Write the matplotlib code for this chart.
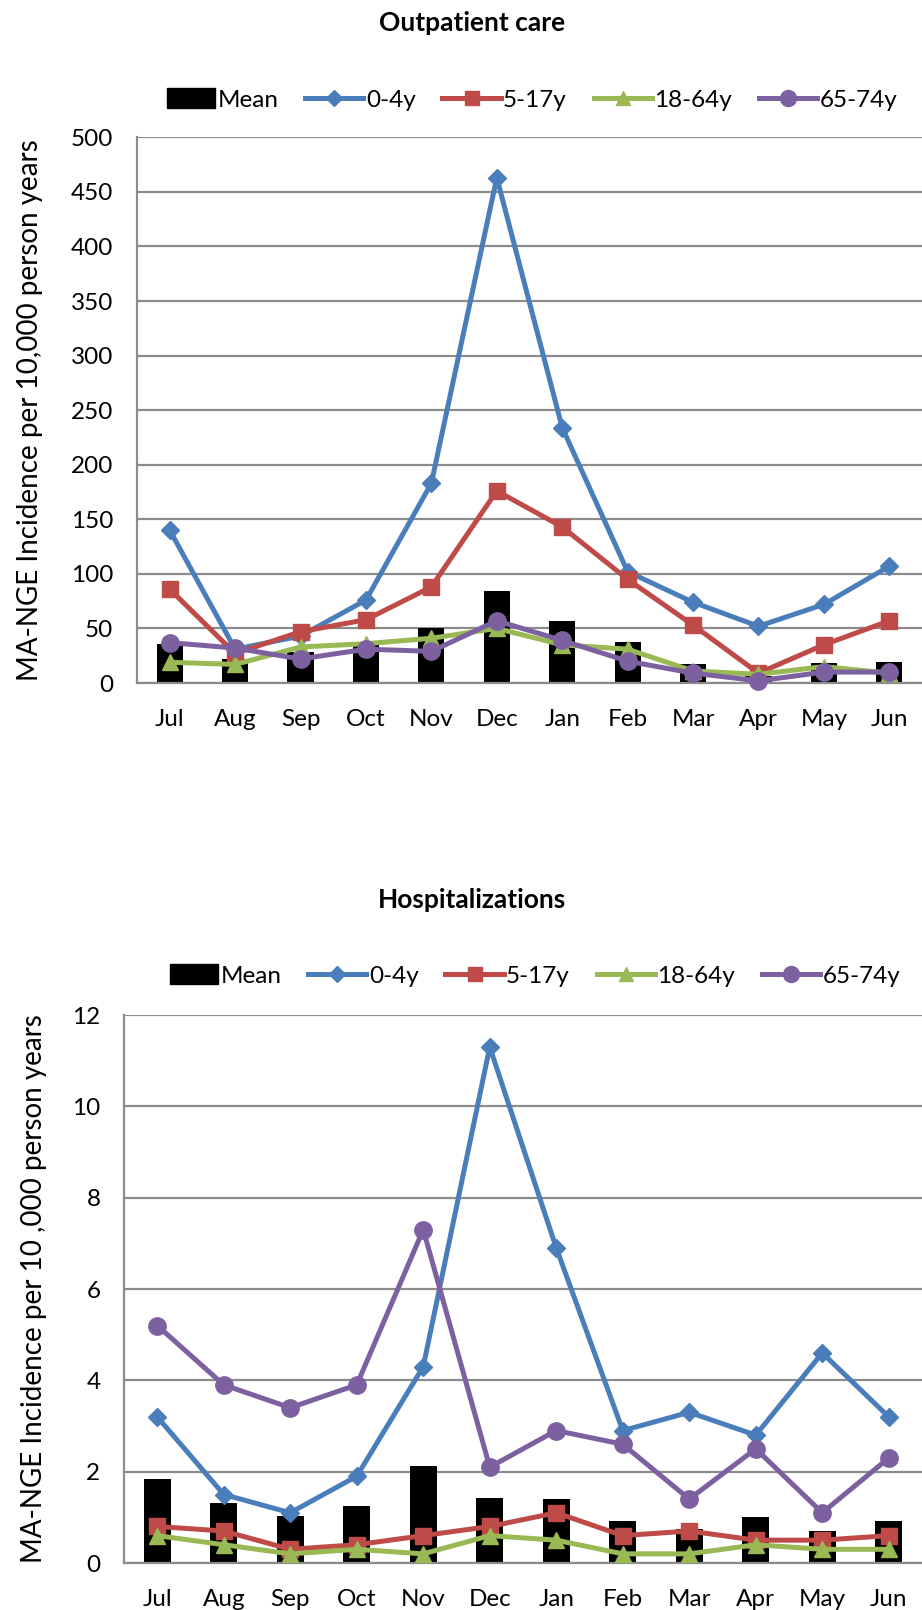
import matplotlib
matplotlib.use("Agg")
import matplotlib.pyplot as plt
from matplotlib.lines import Line2D
from matplotlib.patches import Patch, Rectangle
from matplotlib.legend_handler import HandlerPatch
import numpy as np

plt.rcParams["font.family"] = ["Lato", "DejaVu Sans"]

months = ["Jul", "Aug", "Sep", "Oct", "Nov", "Dec", "Jan", "Feb", "Mar", "Apr", "May", "Jun"]
series_names = ["0-4y", "5-17y", "18-64y", "65-74y"]

# ---- outpatient care ----
op_mean = [36, 22, 28, 37, 50, 84, 57, 38, 17, 6, 18, 19]
op_0_4 = [140, 31, 43, 76, 183, 463, 234, 102, 74, 52, 72, 107]
op_5_17 = [86, 27, 47, 58, 88, 176, 143, 95, 53, 9, 35, 57]
op_18_64 = [19, 17, 33, 36, 41, 50, 35, 31, 11, 8, 15, 9]
op_65_74 = [37, 32, 22, 31, 29, 57, 39, 20, 9, 2, 10, 10]

# ---- hospitalizations ----
hosp_mean = [1.83, 1.31, 1.02, 1.24, 2.12, 1.43, 1.41, 0.93, 0.75, 1.0, 0.69, 0.93]
hosp_0_4 = [3.2, 1.5, 1.1, 1.9, 4.3, 11.3, 6.9, 2.9, 3.3, 2.8, 4.6, 3.2]
hosp_5_17 = [0.8, 0.7, 0.3, 0.4, 0.6, 0.8, 1.1, 0.6, 0.7, 0.5, 0.5, 0.6]
hosp_18_64 = [0.6, 0.4, 0.2, 0.3, 0.2, 0.6, 0.5, 0.2, 0.2, 0.4, 0.3, 0.3]
hosp_65_74 = [5.2, 3.9, 3.4, 3.9, 7.3, 2.1, 2.9, 2.6, 1.4, 2.5, 1.1, 2.3]

colors = ["#4A7EBB", "#BE4B48", "#98B954", "#7D60A0"]
markers = ["D", "s", "^", "o"]
msizes = [9.5, 11.5, 11.5, 12.5]
grid_c = "#8C8C8C"

W, H = 922, 1610
fig = plt.figure(figsize=(W / 100, H / 100), dpi=100)


def _box(legend, orig_handle, xdescent, ydescent, width, height, fontsize):
    # Excel draws the bar key a bit shorter than the line keys
    w = width * 0.82
    return Rectangle((-xdescent + (width - w), -ydescent - 1), w, height + 2)


def panel(rect, mean, lines, ymax, ystep, title, title_y, ylabel, ylabel_x, legend_y, legend_x):
    ax = fig.add_axes(rect)
    x = np.arange(len(months))
    ax.bar(x, mean, width=0.4, color="black", zorder=2)
    for i, vals in enumerate(lines):
        ax.plot(x, vals, color=colors[i], lw=3.6, marker=markers[i], ms=msizes[i],
                mec=colors[i], mfc=colors[i], zorder=3 + i, clip_on=False)
    ax.set_xlim(-0.5, 11.5)
    ax.set_ylim(0, ymax)
    ax.set_yticks(np.arange(0, ymax + ystep / 2, ystep))
    ax.set_xticks(x)
    ax.set_xticklabels(months)
    ax.yaxis.grid(True, color=grid_c, lw=1.6, zorder=0)
    ax.set_axisbelow(True)
    for s in ("top", "right"):
        ax.spines[s].set_visible(False)
    for s in ("left", "bottom"):
        ax.spines[s].set_color(grid_c)
        ax.spines[s].set_linewidth(1.6)
    ax.tick_params(length=0, labelsize=17.5, pad=17)
    ax.tick_params(axis="x", pad=19)
    fig.text(472 / W, 1 - title_y / H, title, ha="center", va="center",
             fontsize=19, fontweight="bold")
    mid = rect[1] + rect[3] / 2
    fig.text(ylabel_x / W, mid, ylabel, rotation=90, ha="center", va="center", fontsize=20)
    handles = [Patch(color="black", label="Mean")]
    for i, n in enumerate(series_names):
        handles.append(Line2D([], [], color=colors[i], lw=3.6, marker=markers[i],
                              ms=msizes[i] - 1, label=n))
    fig.legend(handles=handles, loc="center", bbox_to_anchor=(legend_x / W, 1 - legend_y / H),
               ncol=5, frameon=False, fontsize=17.5, handlelength=2.4, handletextpad=0.1,
               columnspacing=1.1, handler_map={Patch: HandlerPatch(patch_func=_box)})
    return ax


panel([137 / W, 1 - 683 / H, 1 - 137 / W, (683 - 137.3) / H], op_mean,
      [op_0_4, op_5_17, op_18_64, op_65_74], 500, 50,
      "Outpatient care", 23, "MA-NGE Incidence per 10,000 person years", 30, 100, 527)

panel([124 / W, 1 - 1563 / H, 1 - 124 / W, (1563 - 1015) / H], hosp_mean,
      [hosp_0_4, hosp_5_17, hosp_18_64, hosp_65_74], 12, 2,
      "Hospitalizations", 900, "MA-NGE Incidence per 10 ,000 person years", 34, 976, 530)

fig.savefig("out.png", dpi=100)
